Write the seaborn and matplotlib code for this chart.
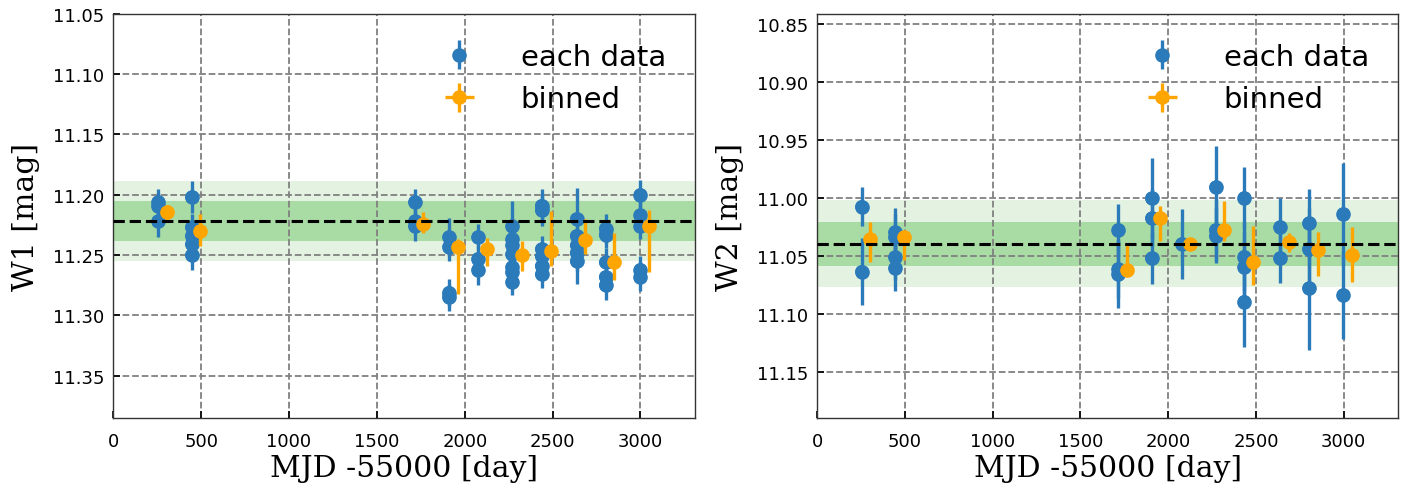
import numpy as np
import pandas as pd
import matplotlib
matplotlib.use("Agg")
import matplotlib.pyplot as plt
import seaborn as sns
from matplotlib.ticker import MultipleLocator, FormatStrFormatter

# ---------------- data ----------------
# W1 individual epochs
w1_t = [256]*3 + [446]*5 + [1716]*3 + [1910]*4 + [2076]*3 + [2270]*7 + [2437]*6 + [2636]*5 + [2801]*5 + [3000]*5
w1_mag = [11.206, 11.209, 11.222,
          11.202, 11.227, 11.234, 11.241, 11.250,
          11.206, 11.222, 11.226,
          11.235, 11.243, 11.281, 11.285,
          11.235, 11.253, 11.262,
          11.226, 11.237, 11.242, 11.249, 11.260, 11.264, 11.272,
          11.209, 11.213, 11.245, 11.251, 11.259, 11.266,
          11.220, 11.234, 11.242, 11.248, 11.255,
          11.228, 11.233, 11.256, 11.268, 11.275,
          11.200, 11.217, 11.226, 11.262, 11.268]
w1_err = [0.011, 0.010, 0.013,
          0.013, 0.011, 0.011, 0.011, 0.012,
          0.011, 0.010, 0.012,
          0.016, 0.012, 0.011, 0.011,
          0.011, 0.011, 0.013,
          0.021, 0.012, 0.011, 0.012, 0.011, 0.012, 0.011,
          0.014, 0.013, 0.011, 0.011, 0.011, 0.011,
          0.026, 0.012, 0.013, 0.015, 0.019,
          0.012, 0.011, 0.012, 0.011, 0.012,
          0.012, 0.011, 0.011, 0.011, 0.012]
# W1 binned
w1b_t = [304, 493, 1765, 1959, 2124, 2323, 2488, 2687, 2850, 3049]
w1b_mag = [11.2146, 11.2303, 11.2243, 11.2431, 11.2450, 11.2500, 11.2464, 11.2375, 11.2560, 11.2257]
w1b_err_up = [0.0063, 0.0145, 0.0097, 0.0064, 0.0090, 0.0120, 0.0330, 0.0174, 0.0243, 0.0130]
w1b_err_dn = [0.0063, 0.0120, 0.0077, 0.0392, 0.0138, 0.0130, 0.0124, 0.0116, 0.0144, 0.0382]
w1b_terr = [20]*10
w1_mean, w1_sig = 11.2215, 0.0166

# W2 individual epochs
w2_t = [253]*2 + [443]*4 + [1716]*3 + [1906]*3 + [2077] + [2271]*3 + [2434]*4 + [2638]*2 + [2802]*3 + [2999]*2
w2_mag = [11.0075, 11.0636,
          11.0296, 11.0340, 11.0512, 11.0607,
          11.0276, 11.0613, 11.0656,
          11.0003, 11.0175, 11.0521,
          11.0397,
          10.9908, 11.0276, 11.0326,
          11.0000, 11.0507, 11.0593, 11.0895,
          11.0253, 11.0518,
          11.0219, 11.0440, 11.0780,
          11.0138, 11.0838]
w2_err = [0.0165, 0.029,
          0.021, 0.020, 0.020, 0.020,
          0.022, 0.025, 0.029,
          0.035, 0.025, 0.022,
          0.030,
          0.036, 0.027, 0.024,
          0.0265, 0.030, 0.030, 0.039,
          0.025, 0.022,
          0.030, 0.035, 0.053,
          0.044, 0.038]
# W2 binned
w2b_t = [302, 494, 1767, 1956, 2125, 2320, 2486, 2688, 2853, 3050]
w2b_mag = [11.0354, 11.0340, 11.0619, 11.0175, 11.0397, 11.0273, 11.0550, 11.0383, 11.0446, 11.0490]
w2b_err_up = [0.0147, 0.0040, 0.0228, 0.0109, 0.0030, 0.0245, 0.0305, 0.0078, 0.0149, 0.0236]
w2b_err_dn = [0.0195, 0.0200, 0.0043, 0.0193, 0.0030, 0.0095, 0.0202, 0.0086, 0.0226, 0.0233]
w2b_terr = [20]*10
w2_mean, w2_sig = 11.0397, 0.0188

x_label = "MJD -55000 [day]"
y_labels = ["W1 [mag]", "W2 [mag]"]
legend_labels = ["each data", "binned"]

# ---------------- style ----------------
sns.set_style("white")
plt.rcParams["font.family"] = ["DejaVu Sans"]
plt.rcParams["text.color"] = "black"
plt.rcParams["axes.labelcolor"] = "black"
plt.rcParams["xtick.color"] = "black"
plt.rcParams["ytick.color"] = "black"

BLUE = "#2b7bba"
ORANGE = "#ffa500"
DARK_G = "#a9dba4"
LIGHT_G = "#e4f3e1"

fig = plt.figure(figsize=(14.16, 4.89), dpi=100)
ax1 = fig.add_axes([0.0800, 0.1431, 0.4108, 0.8268])
ax2 = fig.add_axes([0.5772, 0.1431, 0.4101, 0.8268])

panels = [
    (ax1, w1_t, w1_mag, w1_err, w1b_t, w1b_mag, w1b_err_up, w1b_err_dn, w1b_terr,
     w1_mean, w1_sig, (11.385, 11.05), y_labels[0]),
    (ax2, w2_t, w2_mag, w2_err, w2b_t, w2b_mag, w2b_err_up, w2b_err_dn, w2b_terr,
     w2_mean, w2_sig, (11.190, 10.841), y_labels[1]),
]

for (ax, t, m, e, bt, bm, bup, bdn, bte, mean, sig, ylim, ylab) in panels:
    ax.set_axisbelow("line")
    ax.axhspan(mean - 2*sig, mean + 2*sig, color=LIGHT_G, lw=0, zorder=1)
    ax.axhspan(mean - sig, mean + sig, color=DARK_G, lw=0, zorder=1.1)
    ax.errorbar(t, m, yerr=e, fmt="o", color=BLUE, ms=9.5, elinewidth=2.4,
                capsize=0, label=legend_labels[0], zorder=3)
    df = pd.DataFrame({"t": t, "m": m})
    sns.scatterplot(data=df, x="t", y="m", ax=ax, color=BLUE, s=90,
                    edgecolor="none", legend=False, zorder=3.1)
    ax.errorbar(bt, bm, yerr=[bup, bdn], xerr=bte, fmt="o", color=ORANGE,
                ms=9.5, elinewidth=2.4, capsize=0, label=legend_labels[1], zorder=4)
    ax.axhline(mean, color="black", ls="--", lw=2.2, zorder=5)

    ax.set_xlim(0, 3310)
    ax.set_ylim(*ylim)
    ax.xaxis.set_major_locator(MultipleLocator(500))
    ax.yaxis.set_major_locator(MultipleLocator(0.05))
    ax.yaxis.set_major_formatter(FormatStrFormatter("%.2f"))
    ax.grid(True, color="gray", ls="--", lw=1.3)
    ax.tick_params(direction="in", length=5, width=1.2, labelsize=13,
                   bottom=True, left=True, top=False, right=False, colors="black")
    ax.tick_params(axis="x", pad=10)
    ax.tick_params(axis="y", pad=6.5)
    for s in ax.spines.values():
        s.set_color("#333333")
        s.set_linewidth(1.0)
    ax.set_xlabel(x_label, family="DejaVu Serif", fontsize=21.5, labelpad=3, color="black")
    ax.set_ylabel(ylab, family="DejaVu Serif", fontsize=21.5, labelpad=9, color="black")
    ax.legend(loc="upper right", frameon=False, fontsize=21, handlelength=2.0,
              handletextpad=1.1, borderaxespad=0.6)

fig.savefig("out.png", dpi=100)
